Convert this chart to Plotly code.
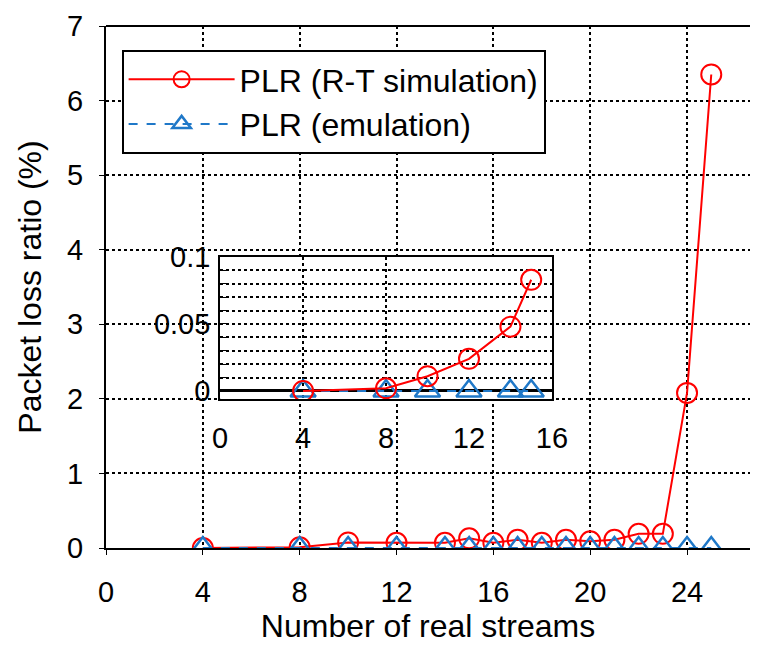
import plotly.graph_objects as go

# ---- data ----
streams = [4, 8, 10, 12, 14, 15, 16, 17, 18, 19, 20, 21, 22, 23, 24, 25]
plr_sim = [0.0, 0.01, 0.075, 0.07, 0.07, 0.13, 0.07, 0.11, 0.07, 0.11, 0.09, 0.11, 0.19, 0.19, 2.08, 6.35]
plr_emu = [0.0, 0.0, 0.0, 0.0, 0.0, 0.0, 0.0, 0.0, 0.0, 0.0, 0.0, 0.0, 0.0, 0.0, 0.0, 0.0]

inset_streams = [4, 8, 10, 12, 14, 15]
inset_sim = [0.0, 0.002, 0.011, 0.024, 0.048, 0.083]
inset_emu = [0.0, 0.0, 0.0, 0.0, 0.0, 0.0]

main_xticks = [0, 4, 8, 12, 16, 20, 24]
main_yticks = [0, 1, 2, 3, 4, 5, 6, 7]
inset_xticks = [0, 4, 8, 12, 16]
inset_xgrid = [4, 8]
inset_yticks = [0, 0.05, 0.1]
inset_ytick_labels = ["0", "0.05", "0.1"]

RED = "#FF0000"
BLUE = "#1F78C8"
FONT = "Liberation Sans, Arial, sans-serif"

fig = go.Figure()

fig.add_trace(go.Scatter(
    x=streams, y=plr_sim, name="PLR (R-T simulation)", mode="lines+markers",
    line=dict(color=RED, width=2),
    marker=dict(symbol="circle-open", size=20, color=RED, line=dict(width=2)),
    xaxis="x", yaxis="y"))
fig.add_trace(go.Scatter(
    x=streams, y=plr_emu, name="PLR (emulation)", mode="lines+markers",
    line=dict(color=BLUE, width=2, dash="dash"),
    marker=dict(symbol="triangle-up-open", size=22, color=BLUE, line=dict(width=2.5)),
    xaxis="x", yaxis="y"))

# inset
fig.add_trace(go.Scatter(
    x=inset_streams, y=inset_emu, mode="lines+markers", showlegend=False,
    line=dict(color=BLUE, width=2, dash="dash"),
    marker=dict(symbol="triangle-up-open", size=22, color=BLUE, line=dict(width=2.5)),
    xaxis="x2", yaxis="y2"))
fig.add_trace(go.Scatter(
    x=inset_streams, y=inset_sim, mode="lines+markers", showlegend=False,
    line=dict(color=RED, width=2),
    marker=dict(symbol="circle-open", size=20, color=RED, line=dict(width=2)),
    xaxis="x2", yaxis="y2"))

W, H = 766, 645
ml, mr, mt, mb = 106, 0, 26, 97
pw, ph = W - ml - mr, H - mt - mb

def fx(px):
    return (px - ml) / pw

def fy(py):
    return (H - mb - py) / ph

fig.update_layout(
    width=W, height=H,
    margin=dict(l=ml, r=mr, t=mt, b=mb),
    paper_bgcolor="white", plot_bgcolor="white",
    font=dict(family=FONT, size=29, color="black"),
    xaxis=dict(
        range=[0, 26.6], tickvals=main_xticks, ticks="outside", ticklen=5,
        tickcolor="black", showline=True, linecolor="black", linewidth=2, mirror=False,
        showgrid=True, gridcolor="black", griddash="dot", gridwidth=2,
        zeroline=False, ticklabelstandoff=12,
        title=dict(text="Number of real streams", font=dict(size=32), standoff=6),
    ),
    yaxis=dict(
        range=[0, 7], tickvals=main_yticks, ticks="outside", ticklen=5,
        tickcolor="black", showline=True, linecolor="black", linewidth=2,
        showgrid=True, gridcolor="black", griddash="dot", gridwidth=2,
        zeroline=True, zerolinecolor="black", zerolinewidth=2.5,
        ticklabelstandoff=10,
        title=dict(text="Packet loss ratio (%)", font=dict(size=32), standoff=16),
    ),
    xaxis2=dict(
        domain=[fx(223), fx(563)], anchor="y2", range=[0, 16],
        tickvals=inset_xticks, ticks="", showgrid=False,
        minor=dict(tickvals=inset_xgrid, showgrid=True, gridcolor="black",
                   griddash="dot", gridwidth=2, ticks=""),
        showline=True, linecolor="black", linewidth=2, mirror=True,
        zeroline=False, ticklabelstandoff=12,
    ),
    yaxis2=dict(
        domain=[fy(399), fy(257)], anchor="x2", range=[-0.006, 0.1],
        tickvals=inset_yticks, ticktext=inset_ytick_labels, ticks="inside", ticklen=6,
        tickcolor="black", showgrid=True, gridcolor="black", griddash="dot", gridwidth=2,
        minor=dict(dtick=0.01, tick0=0, showgrid=True, gridcolor="black",
                   griddash="dot", gridwidth=2, ticks="inside", ticklen=6, tickcolor="black"),
        showline=True, linecolor="black", linewidth=2, mirror=True,
        zeroline=True, zerolinecolor="black", zerolinewidth=2.5,
        ticklabelstandoff=2,
    ),
    legend=dict(
        x=fx(122), y=fy(50), xanchor="left", yanchor="top",
        bgcolor="white", bordercolor="black", borderwidth=2,
        font=dict(size=32), itemwidth=106, tracegroupgap=0,
    ),
    shapes=[dict(type="line", xref="paper", yref="paper", x0=0, x1=1, y0=1, y1=1,
                 line=dict(color="black", width=2), layer="above")],
)

fig.write_html("out.html")
